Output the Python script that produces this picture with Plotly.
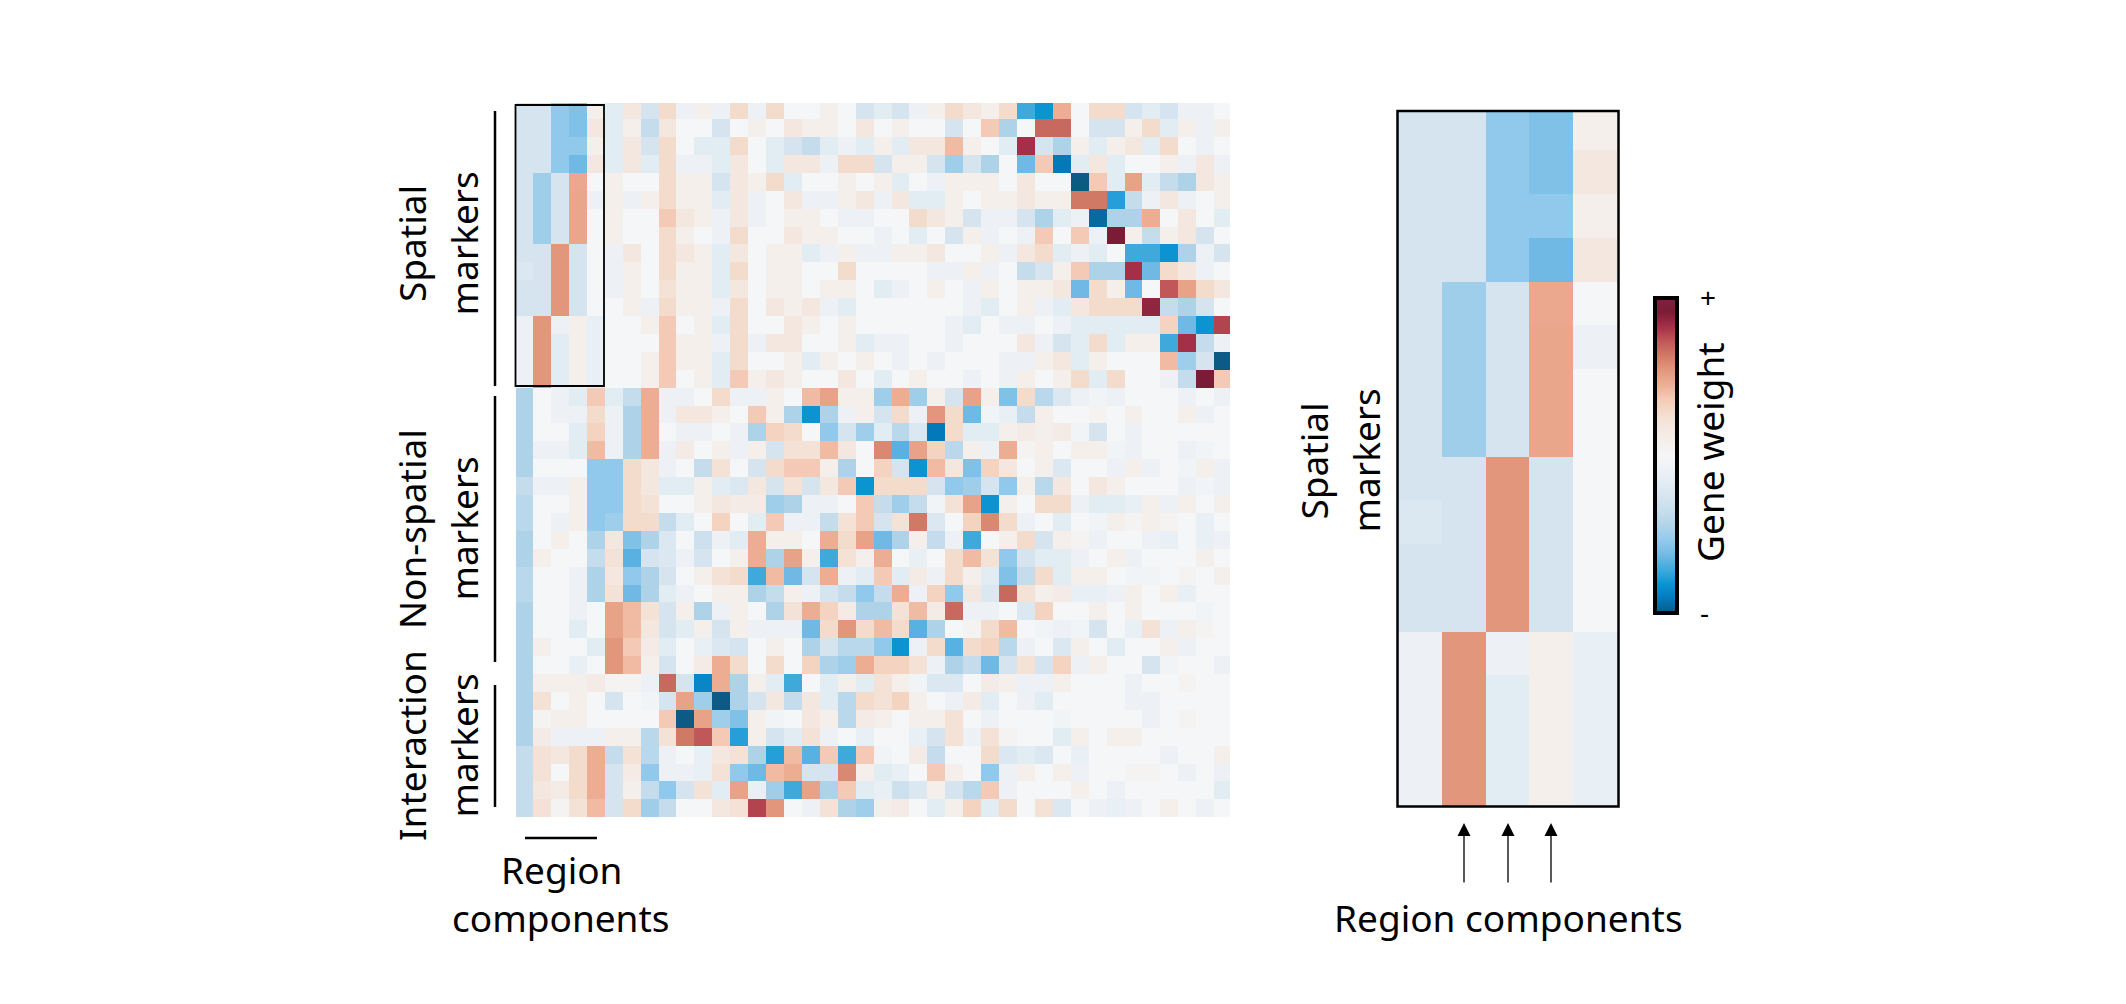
import plotly.graph_objects as go

spatial_rows = [
 [-3,-3,-6,-6.5,1,-2,2,-3,3,-1,1,-1,3,-1,3,0,0,1,0,-3,-2,-3,-1,1,3,2,1,3,-8,-9,5,0,3,3,-3,-2,-3,-1,-1,0],
 [-3,-3,-6,-6.5,2,-2,1,-4,2,0,0,-3,0,1,0,2,1,1,0,2,0,1,0,0,-3,0,4,-5,0,7.5,7.5,0,-3,-3,1,3,-2,1,-1,1],
 [-3,-3,-6,-6,1,-2,2,-3,3,0,-2,-2,3,0,-2,-3,-4,-2,-1,-2,1,-2,2,2,4.5,1,0,-2,9,-3,-5,1,-2,1,2,-2,3,0,-1,0],
 [-3,-3,-6,-7,2,-2,2,-2,3,-1,-1,-2,2,0,-2,2,2,-1,3,3,-3,1,1,-3,-5.5,-3,-5,0,-7,4,-10,-2,2,-2,0,0,1,-1,2,-1],
 [-3,-5.5,-3,5.2,0,1,0,0,3,1,1,-3,2,1,3,-2,0,0,1,0,1,-2,0,-1,1,1,1,0,2,0,0,-11,4,-2,5.5,-2,-4,-5,2,1],
 [-3,-5.5,-3,5.3,-1,1,-1,1,3,1,1,-2,2,-1,0,2,-1,-1,1,2,-1,2,-2,-2,1,0,1,1,2,1,1,7,7,-8.5,-4,-1,2,-1,0,1],
 [-3,-5.5,-3,5.3,0,1,0,0,4,2,1,-1,2,-1,0,1,1,0,-1,-1,0,0,3,2,1,-3,-1,-1,-3,-5,-2,-1,-10.5,-5,-5,5,0,2,0,-2],
 [-3,-5.5,-3,5.3,0,1,0,0,3,1,0,-1,3,0,0,2,1,1,0,0,-1,0,-2,0,-3,1,-1,0,-1,4,0,4,-1,10,1,-4,1,2,-3,0],
 [-3,-3,6,-3,0,-1,2,0,3,2,1,-2,2,0,1,1,-2,-1,1,-1,-1,1,1,2,0,0,1,-1,2,3,-2,-1,-2,0,-8,-8,-9,-5,-1,-3],
 [-2.5,-3,6,-3,0,-1,1,0,3,1,1,-2,3,0,1,1,0,0,3,0,0,0,0,-1,-1,1,-1,0,-4,-3,1,4,-5,-5,9,-7,3,2,-1,0],
 [-3,-3,6,-3,0,-1,1,0,2.5,1,1,-2,2,0,1,1,0,1,1,0,-2,-1,0,1,0,-1,1,0,1,1,2,-7,3,1,-7,0,8,5.5,3,2],
 [-3,-3,6,-3,0,0,1,-1,3,1,1,-1,3,0,2,1,2,-1,-2,0,0,0,0,0,0,-1,-2,0,1,-1,-2,2,3,3,3,9.5,-4,-5,-3,0],
 [-1,6,-1,1,-1.5,0,0,1,4,0,1,-2,3,0,0,2,1,0,1,0,0,0,0,0,-1,-2,0,-1,-1,0,-1,-2,-2,-2,-2,-2,3.5,-7,-9,8.5],
 [-1,6,-2,1,-1.5,0,0,0,4,1,1,-1,3,-1,2,2,0,0,1,-2,-1,-1,0,0,-1,0,0,0,2,-1,-3,-2,3,-2,1,1,-8,9,-4,-1],
 [-1,6,-2,1,-1.5,0,0,1,4,1,1,-2,3,0,0,1,-2,1,0,1,0,-1,0,-1,0,0,0,-1,-1,1,2,-2,1,0,0,0,4.5,-5.5,-3,-11],
 [-1,6,-2,1,-1.5,0,0,1,4,0,1,-2,4,1,2,1,0,0,2,0,-2,0,1,0,0,-1,0,-1,1,0,1,3,-2,3,0,0,-1,-4,10,4],
]
nonspatial_rows = [
 [-5,0,-1,-2,4,-2,-4,5,-1,-1,0,3,-1,-1,1,0,4.5,5.5,1,1,-5.5,5,-5.5,1,-3,5.5,1,-6.5,3,-4.5,-2.5,-1,-0.5,-1,0,0,0,-1,0,-1],
 [-5,0,-1,-1,3,-1,-5,5,-1,2,2,1,0,4,1,-5,-9,-5,-1,1,-3,3,-1,6,3,-7,-0.5,-1.5,-4,1,0,0,0.5,0,1,0,0,1,-1,0],
 [-5,0,0,-2,3.5,-1,-5,5,0,-1,-1,0,-1,-5,3.5,3,0,-6,-3,-5.5,-2,-4.5,-2.5,-10,3,-2,-2,1,1.5,1,1.5,-0.5,-3,0,-1,0,0,0,0,0],
 [-5,-1,-1,-2,4.5,-1,-5,5,-1,1.5,0,1,-1,1,-3,2.5,2.5,4.5,2,0,6.5,-7.5,5.5,3.5,-4.5,1,-1,5,0.5,1,0,1,1,-0.5,-1,0,0,-1,-0.5,0],
 [-5,0,0,0,-6,-6,3,2,-1,0,-4,2.5,0,-3,3,4,4,1,-5,0,3.5,-3,-9,4.5,2,-6.5,3.5,2,0,1,-2.5,0,0,-1,1,-1,0,-0.5,1,-1],
 [-4,-1,-1,1,-6,-6,3,2,-2,-2,1,-2,-2.5,2,-3,2.5,-3,2,4,-9,3,3,3,-3,-6,-5.5,-3,-6,1,-4.5,2,0,2,1,0,0,0,-1,-0.5,-1],
 [-4.5,0,0,1,-6,-6,3,2.5,0,0,1,2,1.5,1.5,-5.5,-5,-1,-1,0,4,-4,-5.5,-4,-0.5,2.5,5.5,-9,1,0,3,3,-1,-2,-2,-1.5,1,-1,1,0,1],
 [-4.5,0,-1,1,-6,-5.5,3,3,-4,-2,0,3.5,0,-2,4,-1,-1,-4,2.5,4,-3,2.5,7,-2.5,0,3.5,6.5,3,-1,0,-2,0,-0.5,1,0.5,1,0.5,0,-1.5,0],
 [-5,0,1,0,-5,2,-6.5,-5,-2.5,0,-3.5,-1,-2,5,1,1,0,5,3,5.5,-7,-5,1,-4,-1,-8,0,1,3,-3,1,0.5,-1,0,0,-1,-1.5,0,-1.5,-1],
 [-5,1,0,0,-4,2.5,-7.5,-3,-2.5,-1,-3,0,1,5,-5,5.5,1,-8,2.5,1,5,0,-1.5,0,3,4.5,2.5,-6,-3,-2,-2,-1,0,1,-1,0,0,0,1,0],
 [-4.5,0,0,-1,-5,2,-6,-5,-3,0,1,2.5,3,-8,4.5,-7,-3,5,-1,-2,4,-2,1.5,-1,3,1,-2,-6.5,-4,3,-2,1,1,0,-0.5,-0.5,0,0.5,0,1],
 [-4.5,0,0,-1,-5,2.5,-7,-5,-2,-1,0,1,1,-5,-4,1,-1,-3,-4,-6,-4,5,-1,3.5,-6,2,-2.5,7.5,2.5,1,1.5,-1.5,-1.5,-1,1,0,1,-1.5,0,0],
 [-5,0,0,-1,0,5.5,4.5,2.5,-3,1,-5,-1,1,0,-5,2.5,5,3.5,1.5,-5,-5,2.5,4.5,1.5,7.5,-1,-1,0,-2.5,3.5,0,0,1,0,1,0,0,0,-0.5,0],
 [-5,0,0,-2,0,5.5,4.5,2,-3,-2,1,-3,1,-1,-1,-1,-7,3,6,3,4.5,3,-7.5,-5,0,0.5,3,4.5,0,-0.5,-1,-0.5,-3,0,-1.5,2.5,-1,1,0.5,0],
 [-5,1,0,0,-2,6,4,1.5,-2,0,-1.5,-2.5,-3,0,1,0,-5,-3,-4.5,-4.5,-6,-9,-1,3,-7.5,3,3.5,-4.5,-1,0,-2.5,1,0,-2,0,0,1,-1,0,0],
 [-5,0,0,-1.5,0,6,4.5,1,-3,0,1.5,5,3,0,3,0,3.5,-5,-5.5,5,3.5,3.5,2.5,-1,-5,-4,-7,-3,2.5,-3,3.5,-1,1,0,0,-3,-0.5,0,0,-1],
]
interaction_rows = [
 [-5,1,1,1,1.5,0.5,0.5,-1,7.5,-3,-9.5,5,-5,1,-2,-8,0,-2,1,-2,2.5,1,-0.5,-2.5,-2.5,0,1.5,1,-1,-1,1,0,0,0,-1,0,0,0.5,0,0],
 [-5,2.5,0,1,0,-3,0,-0.5,-3,5.5,-5.5,-11,-5,-3,2,-4,2,-2,-4.5,3,2.5,3.5,1,0,-1,1.5,-2,0,-1,-2,0,0,0,0,-1,-1,0,0,0,0],
 [-5,0.5,1,1,0,0,0,0,4,-11,5.5,-5.5,-6.5,1,-0.5,0,2,1,-4.5,1.5,1,0,1,1,2.5,0,-1,0,0,0,-0.5,0,0,0,0,-1,0,0.5,0,0],
 [-5,1.5,-1,-1,-1,1,1,-4.5,2.5,7,8,4,-8.5,1,-3,-2,2.5,-1,0,-1.5,0,0,-1.5,-3,2.5,-1,2.5,0.5,0,0,-2,1,0,1,1,0,0,0,0,0],
 [-4,2.5,2,3,5,-4,2.5,-4.5,-1,0,-1.5,2,2.5,-5,-8.5,4.5,-7.5,4,-8,4,-0.5,0,1.5,-4,0,0,3,-2.5,-2,-2.5,0,-1.5,0,0,0,0,-1,0,0,1],
 [-4,2.5,0,3,5,-3,1.5,-6,-1,-1,-1.5,2.5,-6,-7,4.5,5,-3,-3,6.5,1,-2,-1.5,0,4,1,0,-6,-1,1,0,1,-1,0,0,0.5,0.5,0,-1,0,-1],
 [-4,2,1.5,3,5,-3,1,-4,-6,-3,2.5,-2,5.5,-1.5,-5.5,-8,5.5,-5,4,-2,-1.5,-3.5,-2.5,1,-3,-4.5,4,-1,0,0,0,1,0,-1,0,0,0,0,0,-2],
 [-4,2.5,0.5,2.5,4.5,-3,3,-5.5,-4,0,0,2,2.5,8.5,6,0,-1,2.5,-5,-5.5,1,1.5,0,-2,1,3.5,-2,3,0,2.5,-2.5,0,-1,-1.5,-1,0,1,0,-1,0],
]
gene_rows = spatial_rows + nonspatial_rows + interaction_rows
region_rows = [row[:5] for row in spatial_rows]

colorbar_ticks = [-11, 11]
colorbar_labels = ["-", "+"]

stops = [(-11,"#0d5a85"),(-10,"#0479ba"),(-9,"#0c93d2"),(-8,"#3fa9db"),(-7,"#70b9e4"),(-6,"#90c9ec"),
         (-5,"#aed3e9"),(-4,"#c4dcec"),(-3,"#d5e4ef"),(-2,"#e2ecf3"),(-1,"#edf1f6"),(0,"#f5f6f7"),
         (1,"#f4efeb"),(2,"#f4e7e0"),(3,"#f4dccd"),(4,"#f4c9b5"),(5,"#edad92"),(6,"#e2967c"),
         (7,"#d07a66"),(8,"#c05758"),(9,"#a33048"),(10,"#7a1c36"),(11,"#7c2340")]
colorscale = [[(z + 11) / 22, c] for z, c in stops]

W, H = 2126, 1004
FONT = "Noto Sans"
FS = 37

def px(x): return x / W
def py(y): return 1 - y / H

fig = go.Figure()
fig.add_trace(go.Heatmap(z=gene_rows, coloraxis="coloraxis", xaxis="x", yaxis="y", hoverinfo="skip"))
fig.add_trace(go.Heatmap(z=region_rows, coloraxis="coloraxis", xaxis="x2", yaxis="y2", hoverinfo="skip"))

hidden = dict(visible=False, showgrid=False, zeroline=False)
layout = dict(
    width=W, height=H, margin=dict(l=0, r=0, t=0, b=0),
    paper_bgcolor="white", plot_bgcolor="white", showlegend=False,
    font=dict(family=FONT, size=FS, color="black"),
    xaxis=dict(domain=[px(516), px(1230)], range=[-0.45, 39.4], **hidden),
    yaxis=dict(domain=[py(817), py(103)], range=[39.5, -0.4], **hidden),
    xaxis2=dict(domain=[px(1398), px(1617)], range=[-0.5, 4.5], **hidden),
    yaxis2=dict(domain=[py(807), py(111)], range=[15.5, -0.4], **hidden),
    coloraxis=dict(
        colorscale=colorscale, cmin=-11, cmax=11,
        colorbar=dict(
            x=px(1655), xanchor="left", xpad=0,
            y=py(613), yanchor="bottom", ypad=0,
            lenmode="pixels", len=315, thicknessmode="pixels", thickness=22,
            outlinewidth=4, outlinecolor="black",
            tickmode="array", tickvals=colorbar_ticks, ticktext=colorbar_labels,
            ticks="outside", ticklen=16, tickcolor="rgba(0,0,0,0)",
            tickfont=dict(family=FONT, size=28, color="black"),
        ),
    ),
)
fig.update_layout(**layout)

def label(text, x, y, angle=0):
    fig.add_annotation(text=text, x=px(x), y=py(y), xref="paper", yref="paper",
                       showarrow=False, textangle=angle, xanchor="center", yanchor="middle",
                       font=dict(family=FONT, size=FS, color="black"))

label("Spatial", 411, 244, -90)
label("markers", 462.5, 244, -90)
label("Non-spatial", 411, 529, -90)
label("markers", 462.5, 529, -90)
label("Interaction", 411, 746, -90)
label("markers", 462.5, 746, -90)
label("Region", 561, 869)
label("components", 561, 917.5)
label("Spatial", 1312.5, 461, -90)
label("markers", 1364.5, 461, -90)
label("Region components", 1508, 917.5)
label("Gene weight", 1709, 452, -90)

def line(x0, y0, x1, y1, w):
    fig.add_shape(type="line", xref="paper", yref="paper", x0=px(x0), y0=py(y0), x1=px(x1), y1=py(y1),
                  line=dict(color="black", width=w))

line(495, 111, 495, 386, 2.5)
line(495, 396, 495, 662, 2.5)
line(495, 685, 495, 807, 2.5)
line(525, 838, 597, 838, 2.5)

fig.add_shape(type="rect", xref="paper", yref="paper", x0=px(515.5), y0=py(105), x1=px(604), y1=py(386),
              line=dict(color="black", width=1.8))
fig.add_shape(type="rect", xref="paper", yref="paper", x0=px(1397.5), y0=py(111), x1=px(1618.5), y1=py(806.5),
              line=dict(color="black", width=2.5))

for ax_x in (1464, 1508, 1551):
    fig.add_annotation(x=px(ax_x), y=py(823), xref="paper", yref="paper", text="",
                       showarrow=True, axref="pixel", ayref="pixel", ax=0, ay=61,
                       arrowhead=2, arrowsize=2.0, arrowwidth=1.3, arrowcolor="black")

fig.write_html("out.html", config={"displayModeBar": False},
               post_script="document.body.style.margin='0';document.body.style.overflow='hidden';")
